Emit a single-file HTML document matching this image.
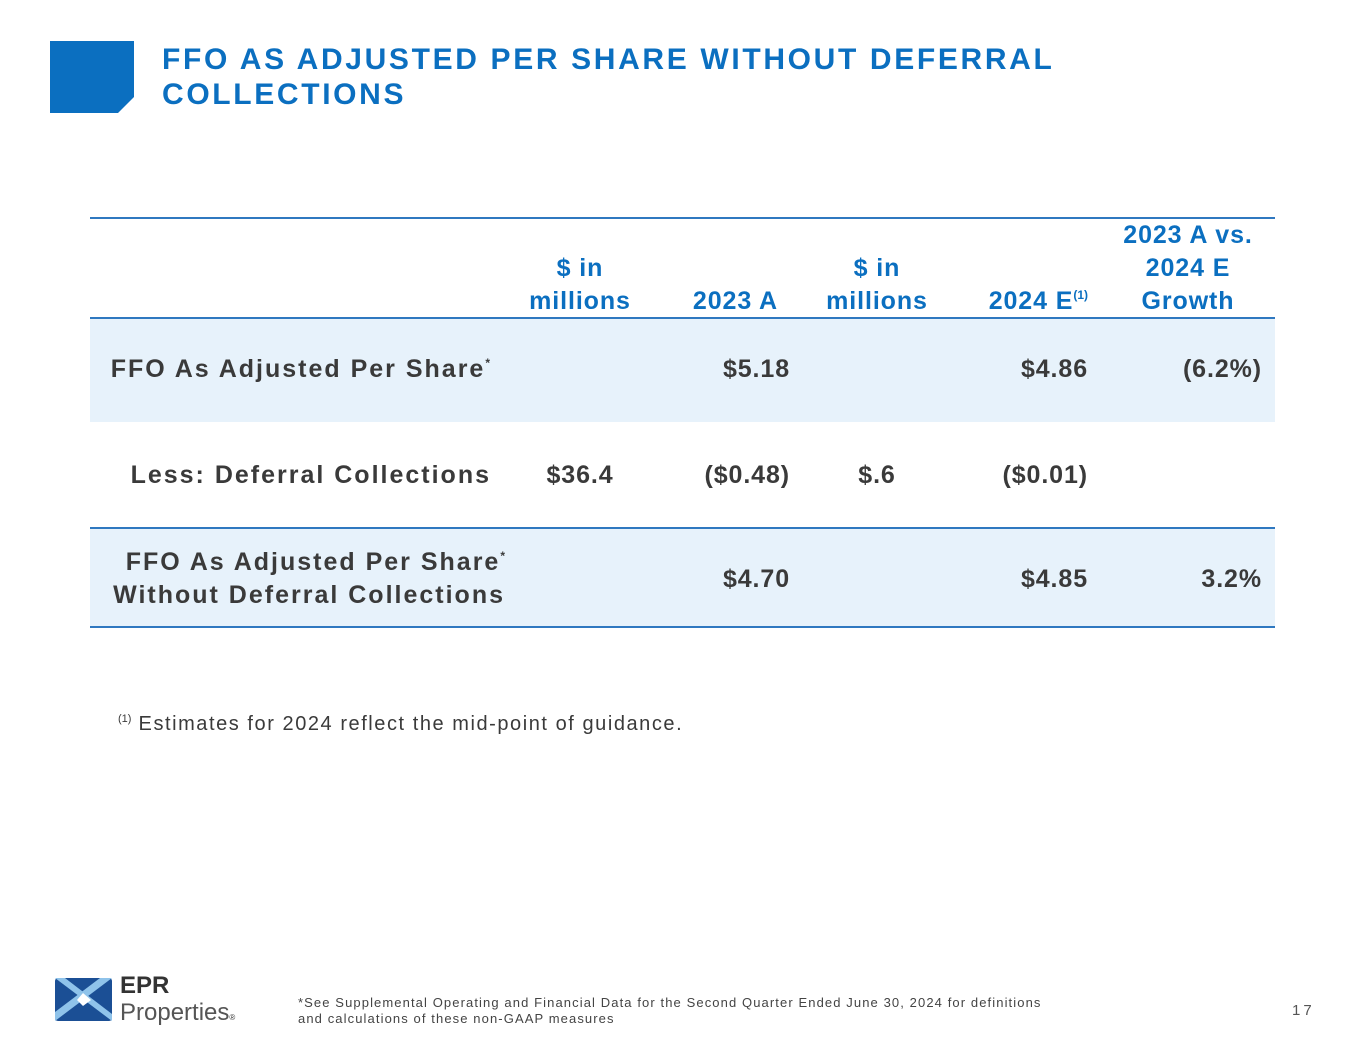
<!DOCTYPE html>
<html><head><meta charset="utf-8"><style>
body{margin:0;width:1365px;height:1055px;background:#fff;position:relative;overflow:hidden;font-family:"Liberation Sans",sans-serif;}
.a{position:absolute;white-space:nowrap}
.t{font-size:25px;color:#3a3a3a;font-weight:bold;letter-spacing:0.9px}
.lb{letter-spacing:2px}
.h{font-size:25px;color:#0b6fc0;text-align:center;line-height:33px;font-weight:bold;letter-spacing:0.9px}
.r{text-align:right}
.c{text-align:center}
.line{position:absolute;left:90px;width:1185px;height:2px;background:#2f78c0}
.bg{position:absolute;left:90px;width:1185px;background:#e7f2fb}
sup{font-size:12px;line-height:0;vertical-align:10px;letter-spacing:0}
</style></head><body>
<svg class="a" style="left:50px;top:41px" width="85" height="73"><polygon points="0,0 84,0 84,56 68,72 0,72" fill="#0b6fc0"/></svg>
<div class="a" style="left:162px;top:42px;font-size:30px;color:#0b6fc0;line-height:35px;letter-spacing:2.65px;font-weight:bold">FFO AS ADJUSTED PER SHARE WITHOUT DEFERRAL<br>COLLECTIONS</div>

<div class="bg" style="top:318px;height:104px"></div>
<div class="bg" style="top:528px;height:99px"></div>
<div class="line" style="top:217px"></div>
<div class="line" style="top:317px"></div>
<div class="line" style="top:527px"></div>
<div class="line" style="top:626px"></div>

<div class="a h" style="left:500px;width:160px;top:252px">$ in<br>millions</div>
<div class="a h" style="left:600px;width:178px;top:285px;text-align:right">2023 A</div>
<div class="a h" style="left:797px;width:160px;top:252px">$ in<br>millions</div>
<div class="a h" style="left:900px;width:188px;top:285px;text-align:right">2024 E<sup>(1)</sup></div>
<div class="a h" style="left:1098px;width:180px;top:219px">2023 A vs.<br>2024 E<br>Growth</div>

<div class="a t r lb" style="left:60px;width:430px;top:355px">FFO As Adjusted Per Share<sup>*</sup></div>
<div class="a t r" style="left:600px;width:190px;top:355px">$5.18</div>
<div class="a t r" style="left:900px;width:188px;top:355px">$4.86</div>
<div class="a t r" style="left:1100px;width:162px;top:355px">(6.2%)</div>

<div class="a t r lb" style="left:60px;width:431px;top:461px">Less: Deferral Collections</div>
<div class="a t c" style="left:500px;width:160px;top:461px">$36.4</div>
<div class="a t r" style="left:600px;width:190px;top:461px">($0.48)</div>
<div class="a t c" style="left:797px;width:160px;top:461px">$.6</div>
<div class="a t r" style="left:900px;width:188px;top:461px">($0.01)</div>

<div class="a t lb" style="left:60px;width:445px;top:546px;text-align:right;line-height:33px">FFO As Adjusted Per Share<sup>*</sup><br>Without Deferral Collections</div>
<div class="a t r" style="left:600px;width:190px;top:565px">$4.70</div>
<div class="a t r" style="left:900px;width:188px;top:565px">$4.85</div>
<div class="a t r" style="left:1100px;width:162px;top:565px">3.2%</div>

<div class="a" style="left:118px;top:713px;font-size:20px;color:#3a3a3a;letter-spacing:1.55px"><sup style="font-size:11px;vertical-align:8px;letter-spacing:0">(1)</sup> Estimates for 2024 reflect the mid-point of guidance.</div>

<svg class="a" style="left:55px;top:978px" width="57" height="43">
<rect width="57" height="43" rx="3" fill="#1b4f95"/>
<polygon points="0,0 57,43 57,36 10,0" fill="#8fc3ea"/>
<polygon points="0,43 57,0 45,0 0,34" fill="#8fc3ea"/>
<polygon points="22,22 28,15 36,22 28,28" fill="#fff"/>
</svg>
<div class="a" style="left:120px;top:974px;color:#333;line-height:24px"><b style="font-size:24px">EPR</b><br><span style="font-size:24px;color:#555">Properties</span><span style="font-size:8px">®</span></div>
<div class="a" style="left:298px;top:995px;font-size:13px;color:#444;line-height:16px;letter-spacing:1.1px">*See Supplemental Operating and Financial Data for the Second Quarter Ended June 30, 2024 for definitions<br>and calculations of these non-GAAP measures</div>
<div class="a" style="left:1292px;top:1002px;font-size:15px;color:#555;letter-spacing:3px">17</div>
</body></html>
